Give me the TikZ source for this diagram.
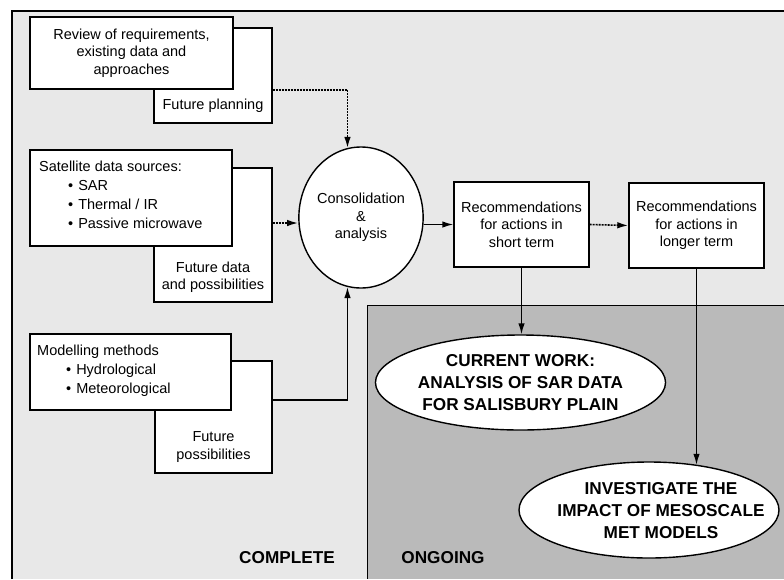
\documentclass[tikz,border=0pt]{standalone}
\usepackage{fontspec}
\setmainfont{Liberation Sans}
\usetikzlibrary{shapes.geometric,arrows.meta}
\begin{document}
\begin{tikzpicture}[x=1pt,y=-1pt,
  txt/.style={font=\fontsize{14.5}{17.5}\selectfont, align=center, inner sep=0},
  ltxt/.style={font=\fontsize{14.5}{19.2}\selectfont, align=left, inner sep=0, anchor=north west},
  btxt/.style={font=\fontsize{17.2}{22}\selectfont\bfseries, align=center, inner sep=0},
  box/.style={draw, fill=white, line width=1.4pt, inner sep=0, rectangle},
  oval/.style={draw, fill=white, line width=1.4pt, inner sep=0, ellipse},
  solarr/.style={line width=1.4pt, -{Latex[length=11pt,width=6.5pt]}},
  dotarr/.style={line width=1.6pt, dash pattern=on 2pt off 1pt, -{Latex[length=11pt,width=6.5pt]}},
]
\useasboundingbox (0,0) rectangle (784,579);
% backgrounds
\fill[black!9] (12,11) rectangle (784,579);
\fill[black!27] (367,305) rectangle (784,579);
\draw[line width=1pt] (784,305) -- (367,305) -- (367,579);
\draw[line width=2.2pt] (12,579) -- (12,10);
\draw[line width=1.4pt] (11,11) -- (784,11);

\coordinate (y223) at (0,223);
\coordinate (y400) at (0,400);

% left column
\node[box, minimum width=118, minimum height=95] (fp) at (213,75.5) {};
\node[box, minimum width=203, minimum height=72] (rev) at (131.5,53)
  [txt] {Review of requirements,\\existing data and\\approaches};
\node[txt] (fpt) at (213,106) {Future planning};

\node[box, minimum width=118, minimum height=134] (fdat) at (213,235) {};
\node[box, minimum width=202, minimum height=96] (sat) at (131,198) {};
\node[ltxt] (satt) at (39,160.5) {Satellite data sources:\\
  \hspace*{29pt}\textbullet\hspace{5pt}SAR\\
  \hspace*{29pt}\textbullet\hspace{5pt}Thermal / IR\\
  \hspace*{29pt}\textbullet\hspace{5pt}Passive microwave};
\node[txt] (fdt) at (213,277) {Future data\\and possibilities};

\node[box, minimum width=117, minimum height=112] (fpos) at (213.5,417) {};
\node[box, minimum width=201, minimum height=76] (mod) at (130.5,372) {};
\node[ltxt] (modt) at (37,344.5) {Modelling methods\\
  \hspace*{29pt}\textbullet\hspace{5pt}Hydrological\\
  \hspace*{29pt}\textbullet\hspace{5pt}Meteorological};
\node[txt] (fpost) at (213.5,447) {Future\\possibilities};

% centre
\node[oval, minimum width=117, minimum height=141] (cons) at (361,217.5)
  [txt] {Consolidation\\\&\\analysis};

\node[box, minimum width=135, minimum height=85] (short) at (521.5,224.5)
  [txt] {Recommendations\\for actions in\\short term};
\node[box, minimum width=135, minimum height=85] (long) at (696.5,225.5)
  [txt] {Recommendations\\for actions in\\longer term};

% ongoing ellipses
\node[oval, minimum width=265, minimum height=95] (cur) at (520.5,382.5)
  [btxt] {CURRENT WORK:\\ANALYSIS OF SAR DATA\\FOR SALISBURY PLAIN};
\node[oval, minimum width=260, minimum height=96] (inv) at (649,510) {};
\node[btxt] (invt) at (661,511) {INVESTIGATE THE\\IMPACT OF MESOSCALE\\MET MODELS};

% labels
\node[btxt] (lc) at (287,558) {COMPLETE};
\node[btxt] (lo) at (443,558) {ONGOING};

% connectors
\draw[dotarr] (rev.south -| fp.east) -| (cons.101.5);
\draw[dotarr] (fdat.east |- y223) -- (cons.west |- y223);
\draw[solarr] (fpos.east |- y400) -| (cons.-101.5);
\draw[solarr] (cons.east |- short.west) -- (short.west);
\draw[dotarr] (short.east) -- (long.west);
\draw[solarr] (short.south) -- (short.south |- cur.north);
\draw[solarr] (long.south) -- (long.south |- inv.43.3);
\end{tikzpicture}
\end{document}
